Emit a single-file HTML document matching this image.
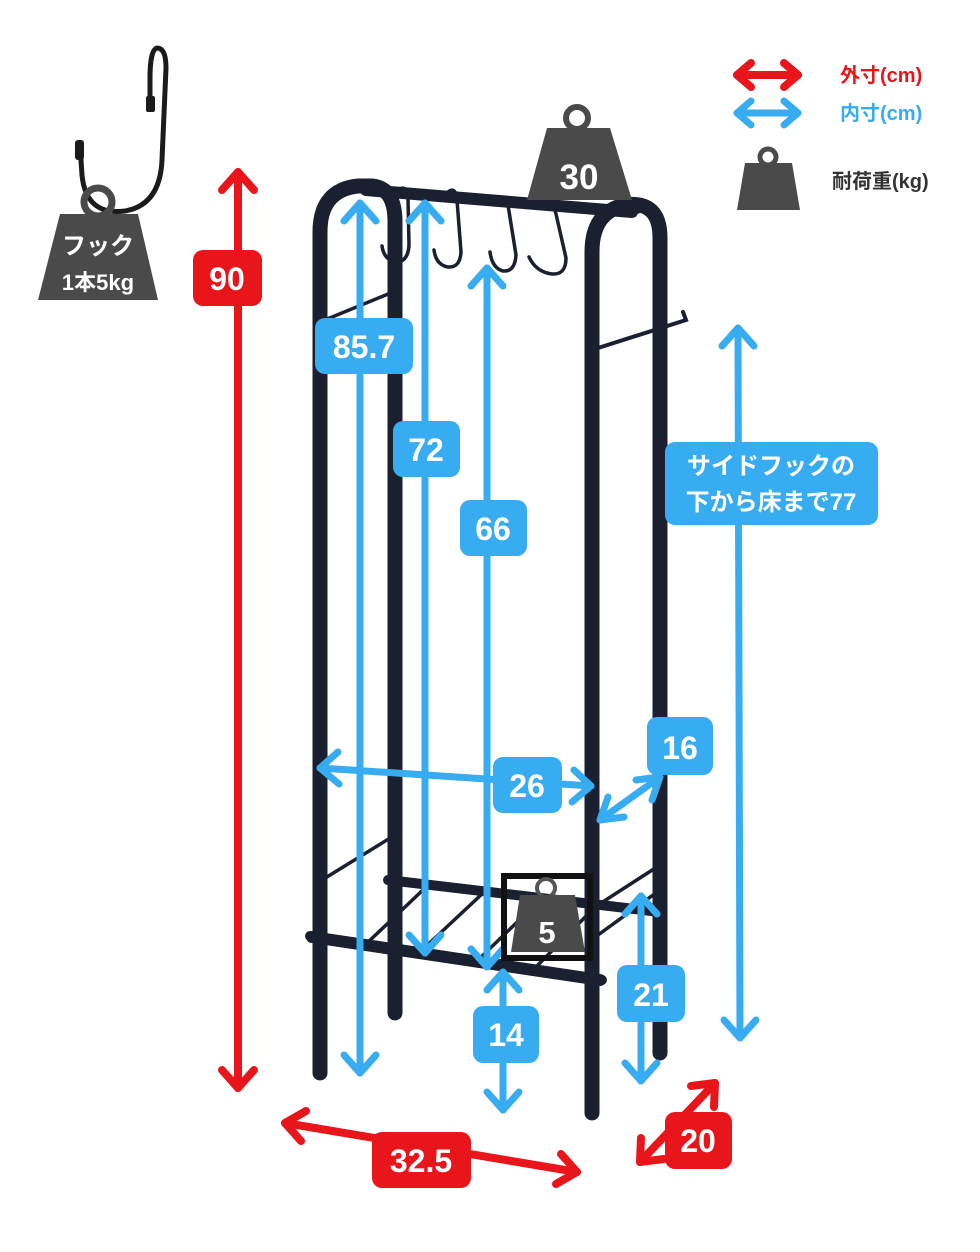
<!DOCTYPE html>
<html><head><meta charset="utf-8"><style>
html,body{margin:0;padding:0;background:#fff;}
svg{display:block;}
text{font-family:"Liberation Sans","Noto Sans CJK JP",sans-serif;font-weight:bold;}
</style></head><body>
<svg width="980" height="1252" viewBox="0 0 980 1252" xmlns="http://www.w3.org/2000/svg">
<rect width="980" height="1252" fill="#fff"/>

<!-- Rack -->
<g stroke="#1b2030" fill="none" stroke-linecap="round">
  <line x1="388" y1="880" x2="660" y2="912" stroke-width="10"/>
  <g stroke-width="3.5">
    <line x1="322" y1="880" x2="395" y2="835"/>
    <line x1="598" y1="905" x2="660" y2="865"/>
    <line x1="365" y1="945" x2="425" y2="888"/>
    <line x1="420" y1="952" x2="482" y2="894"/>
    <line x1="478" y1="960" x2="540" y2="900"/>
    <line x1="535" y1="968" x2="596" y2="906"/>
    <line x1="598" y1="935" x2="660" y2="890"/>
    <line x1="320" y1="322" x2="393" y2="292"/>
  </g>
  <path d="M320,1073 L320,232 Q320,190 358,186 L372,186 Q395,188 395,222 L395,1013" stroke-width="15"/>
  <path d="M592,1113 L592,252 Q592,212 625,205 Q660,200 660,238 L660,1053" stroke-width="15"/>
  <line x1="366" y1="190" x2="632" y2="212" stroke-width="12"/>
  <g stroke-width="3.5">
    <path d="M398,190 Q407,184 408,198 L409,245 Q408,262 396,262 Q384,260 382,246"/>
    <path d="M448,192 Q456,186 457,200 L461,252 Q460,268 448,267 Q436,265 434,250"/>
    <path d="M494,200 Q500,192 508,205 L516,255 Q515,272 503,271 Q492,268 490,252"/>
    <path d="M546,208 Q553,202 556,214 L566,258 Q566,275 552,274 Q536,272 529,257"/>
  </g>
  <polyline points="598,348 686,320 683,312" stroke-width="4"/>
  <line x1="312" y1="937" x2="600" y2="980" stroke-width="12"/>
</g>
<g fill="#1b2030">
  <circle cx="310" cy="936" r="5"/><circle cx="602" cy="980" r="5"/>
  <circle cx="388" cy="880" r="4"/><circle cx="663" cy="912" r="4"/>
  <circle cx="637" cy="209" r="5"/>
</g>

<!-- Red arrows -->
<g stroke="#e8151b" stroke-width="8" fill="none" stroke-linecap="round" stroke-linejoin="round">
  <line x1="238" y1="172" x2="238" y2="1088"/>
  <polyline points="222,190 238,172 254,190"/>
  <polyline points="222,1070 238,1088 254,1070"/>
  <line x1="285" y1="1123" x2="577" y2="1172"/>
  <polyline points="301,1141 285,1123 306,1111"/>
  <polyline points="561,1154 577,1172 556,1184"/>
  <line x1="640" y1="1162" x2="715" y2="1083"/>
  <polyline points="691,1086 715,1083 714,1107"/>
  <polyline points="664,1159 640,1162 641,1138"/>
  <line x1="737" y1="75" x2="798" y2="75"/>
  <polyline points="751,63 737,75 751,87"/>
  <polyline points="784,63 798,75 784,87"/>
</g>

<!-- Blue arrows -->
<g stroke="#37acf0" stroke-width="7" fill="none" stroke-linecap="round" stroke-linejoin="round">
  <line x1="360" y1="203" x2="360" y2="1073"/>
  <polyline points="344,221 360,203 376,221"/><polyline points="344,1055 360,1073 376,1055"/>
  <line x1="425" y1="203" x2="425" y2="953"/>
  <polyline points="409,221 425,203 441,221"/><polyline points="409,935 425,953 441,935"/>
  <line x1="487" y1="268" x2="487" y2="967"/>
  <polyline points="471,286 487,268 503,286"/><polyline points="471,949 487,967 503,949"/>
  <line x1="738" y1="328" x2="740" y2="1038"/>
  <polyline points="722,346 738,328 754,346"/><polyline points="724,1020 740,1038 756,1020"/>
  <line x1="320" y1="768" x2="591" y2="786"/>
  <polyline points="338,752 320,768 339,784"/><polyline points="574,770 591,786 572,802"/>
  <line x1="600" y1="820" x2="660" y2="777"/>
  <polyline points="636,780 660,777 652,800"/><polyline points="624,817 600,820 608,797"/>
  <line x1="503" y1="972" x2="503" y2="1110"/>
  <polyline points="487,990 503,972 519,990"/><polyline points="487,1092 503,1110 519,1092"/>
  <line x1="641" y1="896" x2="641" y2="1081"/>
  <polyline points="625,914 641,896 657,914"/><polyline points="625,1063 641,1081 657,1063"/>
  <line x1="737" y1="113" x2="798" y2="113"/>
  <polyline points="751,101 737,113 751,125"/><polyline points="784,101 798,113 784,125"/>
</g>

<g fill="#37acf0">
  <rect x="315" y="318" width="98" height="56" rx="10"/>
  <rect x="393" y="421" width="67" height="56" rx="10"/>
  <rect x="460" y="500" width="67" height="56" rx="10"/>
  <rect x="665" y="442" width="213" height="83" rx="10"/>
  <rect x="493" y="757" width="69" height="56" rx="10"/>
  <rect x="647" y="717" width="66" height="58" rx="10"/>
  <rect x="473" y="1006" width="66" height="57" rx="10"/>
  <rect x="617" y="965" width="68" height="57" rx="10"/>
</g>
<g fill="#e8151b">
  <rect x="193" y="250" width="69" height="56" rx="10"/>
  <rect x="372" y="1132" width="99" height="56" rx="10"/>
  <rect x="665" y="1112" width="67" height="57" rx="10"/>
</g>
<g fill="#fff" font-size="32" text-anchor="middle">
  <text x="364" y="358">85.7</text>
  <text x="426" y="461">72</text>
  <text x="493" y="540">66</text>
  <text x="527" y="797">26</text>
  <text x="680" y="759">16</text>
  <text x="506" y="1046">14</text>
  <text x="651" y="1006">21</text>
  <text x="227" y="290">90</text>
  <text x="421" y="1172">32.5</text>
  <text x="698" y="1152">20</text>
  <text x="771" y="474" font-size="24">サイドフックの</text>
  <text x="771" y="510" font-size="24">下から床まで77</text>
</g>

<circle cx="577" cy="118" r="11" fill="none" stroke="#4a4a4a" stroke-width="6"/>
<path d="M547,128 L610,128 L632,200 L527,200 Z" fill="#4a4a4a"/>
<text x="579" y="189" fill="#fff" font-size="35" text-anchor="middle">30</text>

<rect x="504" y="876" width="86" height="82" fill="none" stroke="#111" stroke-width="6"/>
<circle cx="546" cy="888" r="9" fill="none" stroke="#555" stroke-width="4"/>
<path d="M520,895 L575,895 L585,952 L511,952 Z" fill="#4a4a4a"/>
<text x="547" y="943" fill="#fff" font-size="31" text-anchor="middle">5</text>

<path d="M80,145 L82,175 Q86,216 125,211 Q160,205 162,160 L166,68 Q166,48 157,48 Q150,50 150,78 L150,106" fill="none" stroke="#1b1b1b" stroke-width="5" stroke-linecap="round"/>
<rect x="75" y="140" width="9" height="20" rx="3" fill="#1b1b1b"/>
<rect x="146" y="96" width="9" height="16" rx="2" fill="#1b1b1b"/>
<circle cx="98" cy="202" r="14" fill="none" stroke="#4a4a4a" stroke-width="7"/>
<path d="M60,214 L138,214 L158,300 L38,300 Z" fill="#4a4a4a"/>
<text x="98" y="254" fill="#fff" font-size="24" text-anchor="middle">フック</text>
<text x="98" y="290" fill="#fff" font-size="22" text-anchor="middle">1本5kg</text>

<text x="840" y="82" fill="#e8151b" font-size="20">外寸(cm)</text>
<text x="840" y="120" fill="#37acf0" font-size="20">内寸(cm)</text>
<circle cx="768" cy="157" r="8" fill="none" stroke="#4a4a4a" stroke-width="5"/>
<path d="M745,163 L792,163 L800,210 L737,210 Z" fill="#4a4a4a"/>
<text x="832" y="188" fill="#333" font-size="20">耐荷重(kg)</text>
</svg>
</body></html>
